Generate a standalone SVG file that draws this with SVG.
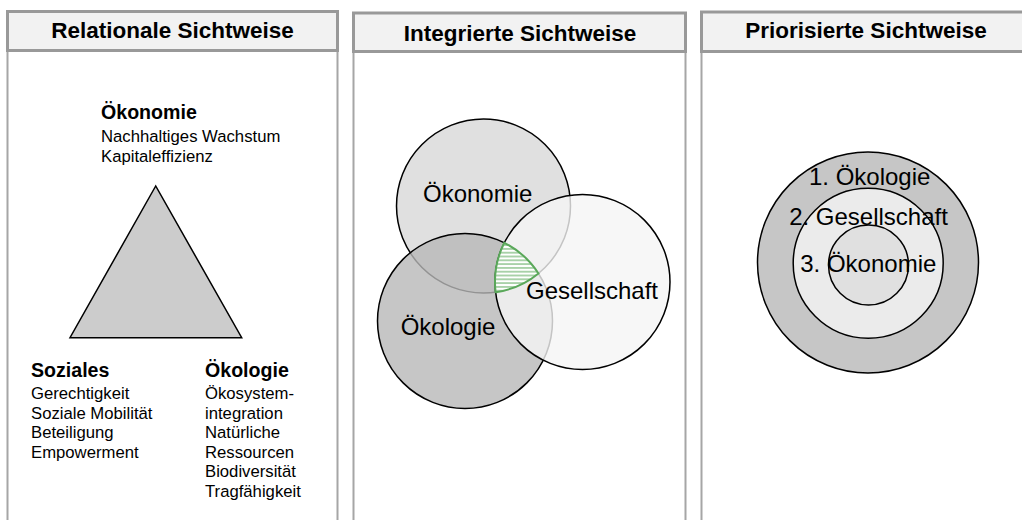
<svg xmlns="http://www.w3.org/2000/svg" width="1022" height="520" viewBox="0 0 1022 520">
  <defs>
    <style>
      .hdr { fill: #f2f2f2; stroke: #999999; stroke-width: 3; }
      .side { stroke: #a6a6a6; stroke-width: 2; fill: none; }
      .title { font-family: "Liberation Sans", Arial, sans-serif; font-weight: bold; font-size: 22.5px; fill: #000; text-anchor: middle; }
      .lbl { font-family: "Liberation Sans", Arial, sans-serif; font-weight: bold; font-size: 19.6px; fill: #000; }
      .txt { font-family: "Liberation Sans", Arial, sans-serif; font-size: 16.7px; fill: #000; }
      .big { font-family: "Liberation Sans", Arial, sans-serif; font-size: 24px; fill: #000; text-anchor: middle; }
      .shape { stroke: #000; stroke-width: 1.5; }
    </style>
    <pattern id="hatch" patternUnits="userSpaceOnUse" width="8" height="3.8">
      <rect width="8" height="3.8" fill="#ffffff"/>
      <line x1="0" y1="1.9" x2="8" y2="1.9" stroke="#5aa85a" stroke-width="1"/>
    </pattern>
  </defs>

  <g id="panel-relational">
    <line class="side" x1="7.5" y1="50" x2="7.5" y2="522"/>
    <line class="side" x1="337.5" y1="50" x2="337.5" y2="522"/>
    <rect class="hdr" x="7.5" y="11.5" width="330" height="39"/>
    <text class="title" x="172.5" y="37.7">Relationale Sichtweise</text>
  </g>

  <g id="panel-integrated">
    <line class="side" x1="353.5" y1="50" x2="353.5" y2="522"/>
    <line class="side" x1="685.5" y1="50" x2="685.5" y2="522"/>
    <rect class="hdr" x="353.5" y="13" width="332" height="38.5"/>
    <text class="title" x="520" y="40.5">Integrierte Sichtweise</text>
  </g>

  <g id="panel-prioritized">
    <line class="side" x1="701.5" y1="50" x2="701.5" y2="522"/>
    <rect class="hdr" x="701.5" y="12" width="331" height="39.5"/>
    <text class="title" x="866" y="37.5">Priorisierte Sichtweise</text>
  </g>

  <g id="triangle">
    <polygon class="shape" points="155.7,186 70,337.7 241.7,337.7" fill="#cccccc"/>
  </g>

  <g id="label-oekonomie">
    <text class="lbl" x="101" y="119">Ökonomie</text>
    <text class="txt" x="101" y="141.5">Nachhaltiges Wachstum</text>
    <text class="txt" x="101" y="161.5">Kapitaleffizienz</text>
  </g>

  <g id="label-soziales">
    <text class="lbl" x="31" y="377">Soziales</text>
    <text class="txt" x="31" y="399">Gerechtigkeit</text>
    <text class="txt" x="31" y="418.5">Soziale Mobilität</text>
    <text class="txt" x="31" y="438">Beteiligung</text>
    <text class="txt" x="31" y="457.5">Empowerment</text>
  </g>

  <g id="label-oekologie">
    <text class="lbl" x="205" y="377">Ökologie</text>
    <text class="txt" x="205" y="399">Ökosystem-</text>
    <text class="txt" x="205" y="418.5">integration</text>
    <text class="txt" x="205" y="438">Natürliche</text>
    <text class="txt" x="205" y="457.5">Ressourcen</text>
    <text class="txt" x="205" y="477">Biodiversität</text>
    <text class="txt" x="205" y="496.5">Tragfähigkeit</text>
  </g>

  <g id="venn-oekonomie">
    <circle class="shape" cx="483.5" cy="206" r="87" fill="#e0e0e0"/>
  </g>
  <g id="venn-oekologie">
    <circle class="shape" cx="465" cy="321" r="87.5" fill="#b8b8b8" fill-opacity="0.8"/>
  </g>
  <g id="venn-gesellschaft">
    <circle class="shape" cx="582.5" cy="282" r="87.5" fill="#f5f5f5" fill-opacity="0.8"/>
  </g>
  <g id="venn-intersection">
    <path d="M504.3,242.8 A87.5,87.5 0 0 1 538.45,273.45 A87,87 0 0 1 495.6,292.2 A87.5,87.5 0 0 1 504.3,242.8 Z" fill="url(#hatch)" stroke="#5aa85a" stroke-width="2"/>
  </g>
  <g id="venn-labels">
    <text class="big" x="477.7" y="201.7">Ökonomie</text>
    <text class="big" x="448" y="335">Ökologie</text>
    <text class="big" x="592" y="299">Gesellschaft</text>
  </g>

  <g id="ring-oekologie">
    <circle class="shape" cx="868" cy="262.5" r="110.5" fill="#c6c6c6"/>
  </g>
  <g id="ring-gesellschaft">
    <circle class="shape" cx="868.2" cy="263.3" r="75" fill="#ebebeb"/>
  </g>
  <g id="ring-oekonomie">
    <circle class="shape" cx="868.5" cy="265" r="40" fill="#e0e0e0"/>
  </g>
  <g id="ring-labels">
    <text class="big" x="869.7" y="185.3">1. Ökologie</text>
    <text class="big" x="868.5" y="225">2. Gesellschaft</text>
    <text class="big" x="868.3" y="271.8">3. Ökonomie</text>
  </g>

  <g id="connectors"/>
</svg>
